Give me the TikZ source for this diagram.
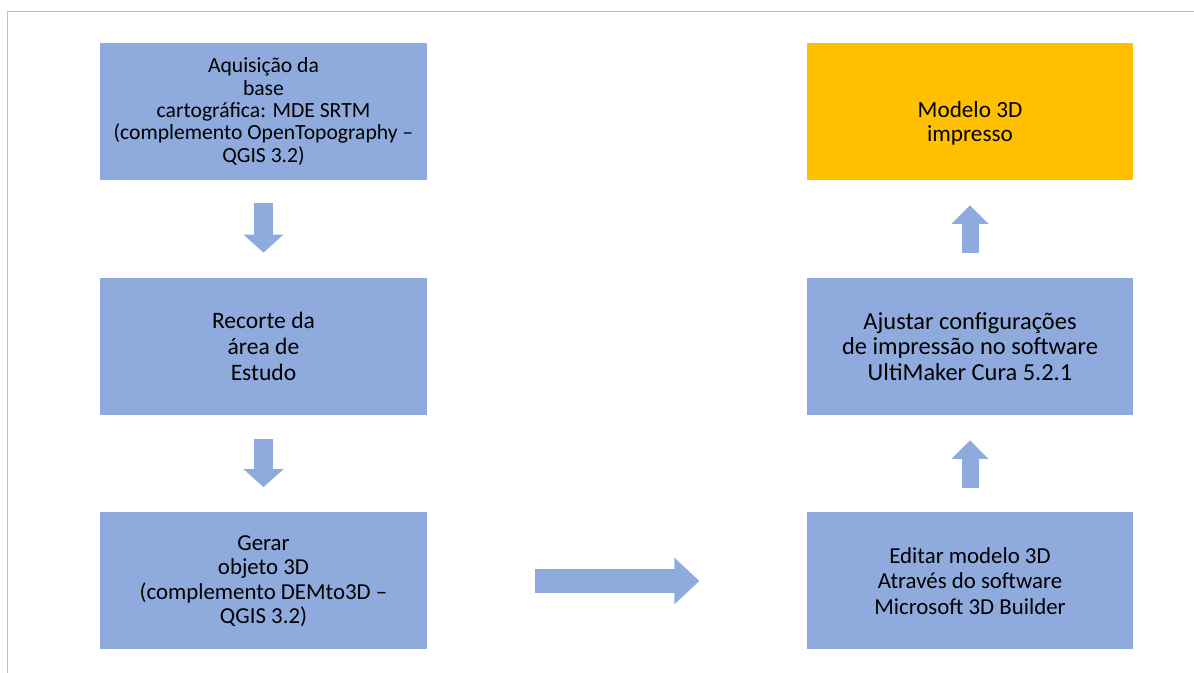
\documentclass[tikz,border=0pt]{standalone}
\usepackage{fontspec}
\setmainfont{Carlito}
\usepackage{tikz}
\usetikzlibrary{arrows.meta}

\definecolor{boxblue}{HTML}{8FAADC}
\definecolor{boxgold}{HTML}{FFC000}
\definecolor{framegray}{HTML}{BFBFBF}

\begin{document}
\begin{tikzpicture}[
    box/.style={fill=boxblue, minimum width=6.53cm, minimum height=2.74cm, inner sep=0pt,
                align=center, text=black, font=\fontsize{13}{14.5}\selectfont},
    downarrow/.style={line width=0.38cm, color=boxblue,
                -{Triangle[width=0.78cm,length=0.36cm]}},
    uparrow/.style={line width=0.34cm, color=boxblue,
                -{Triangle[width=0.72cm,length=0.37cm]}}
  ]
            \useasboundingbox (0,0) rectangle (23.88,13.46);
            \draw[color=framegray, line width=0.03cm] (0.15,0) -- (0.15,13.23) -- (23.88,13.23);

            % left column
            \node[box, font=\fontsize{12.3}{12.7}\selectfont] (acq) at (5.27,11.23) {Aquisição da\\ base\\ cartográfica: MDE SRTM\\ (complemento OpenTopography --\\ QGIS 3.2)};
            \node[box, font=\fontsize{13.4}{14.6}\selectfont] (rec) at (5.27,6.53) {Recorte da\\ área de\\ Estudo};
            \node[box, font=\fontsize{13}{13.9}\selectfont] (ger) at (5.27,1.84) {Gerar\\ objeto 3D\\ (complemento DEMto3D --\\ QGIS 3.2)};

            % right column
            \node[box, fill=boxgold, label={[yshift=-0.24cm, align=center, font=\fontsize{13.2}{13.7}\selectfont]center:Modelo 3D\\ impresso}] (imp) at (19.40,11.23) {};
            \node[box, font=\fontsize{13.9}{14.6}\selectfont] (aju) at (19.40,6.53) {Ajustar configurações\\ de impressão no software\\ UltiMaker Cura 5.2.1};
            \node[box] (edi) at (19.40,1.84) {Editar modelo 3D\\ Através do software\\ Microsoft 3D Builder};

            \draw[downarrow, shorten <=0.46cm, shorten >=0.5cm] (acq) -- (rec);
            \draw[downarrow, shorten <=0.48cm, shorten >=0.5cm] (rec) -- (ger);
            \draw[color=boxblue, line width=0.48cm, -{Triangle[width=0.9cm,length=0.5cm]}, shorten <=2.16cm, shorten >=2.14cm] (ger) -- (edi);
            \draw[uparrow, shorten <=0.48cm, shorten >=0.5cm] (edi) -- (aju);
            \draw[uparrow, shorten <=0.5cm, shorten >=0.5cm] (aju) -- (imp);
\end{tikzpicture}
\end{document}
